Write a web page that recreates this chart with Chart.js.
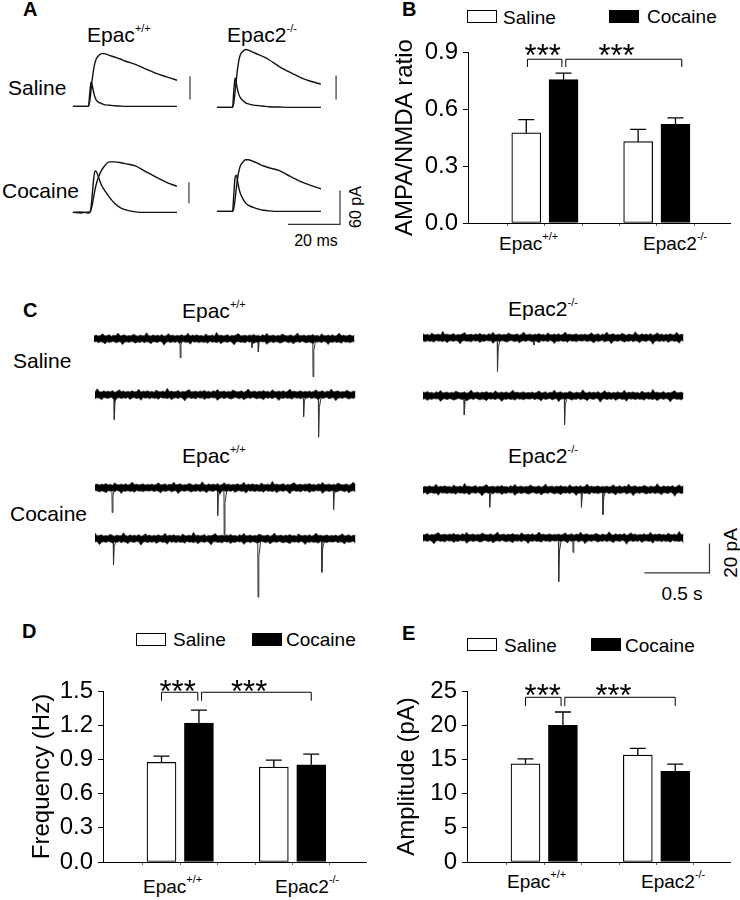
<!DOCTYPE html>
<html>
<head>
<meta charset="utf-8">
<script src="https://cdn.jsdelivr.net/npm/chart.js@4.4.1/dist/chart.umd.min.js"></script>
<style>
  body { margin: 0; background: #fff; }
  #fig { position: relative; width: 740px; height: 900px; font-family: "Liberation Sans", Arial, sans-serif; color: #000; overflow: hidden; }
  #fig canvas { position: absolute; }
  .t { position: absolute; line-height: 1; white-space: nowrap; transform: translateY(-50%); }
  .t .s { font-size: 11px; vertical-align: 10px; line-height: 0; }
  .L { font-size: 20px; font-weight: bold; }
  .h { font-size: 21px; }
  .x { font-size: 19px; }
  .lg { font-size: 19px; }
  .box { position: absolute; width: 28px; height: 11px; border: 1px solid #000; background: #fff; }
  .box.f { background: #000; }
  .rot { position: absolute; line-height: 1; white-space: nowrap; transform: translate(-50%, -50%) rotate(-90deg); }
</style>
</head>
<body>
<div id="fig">
  <!-- panel letters -->
  <div class="t L" style="left:23px;top:9px">A</div>
  <div class="t L" style="left:402px;top:8.5px">B</div>
  <div class="t L" style="left:23px;top:310px">C</div>
  <div class="t L" style="left:22px;top:631px">D</div>
  <div class="t L" style="left:402px;top:633px">E</div>

  <!-- A labels -->
  <div class="t h" style="left:87px;top:34px">Epac<span class="s">+/+</span></div>
  <div class="t h" style="left:227px;top:34px">Epac2<span class="s">-/-</span></div>
  <div class="t h" style="left:8px;top:87px">Saline</div>
  <div class="t h" style="left:2px;top:190px">Cocaine</div>
  <div class="t" style="left:316px;top:241px;font-size:16px;transform:translate(-50%,-50%)">20 ms</div>
  <div class="rot" style="left:356px;top:207px;font-size:16px">60 pA</div>

  <!-- B legend + labels -->
  <div class="box" style="left:467px;top:10px"></div>
  <div class="t lg" style="left:503px;top:17px">Saline</div>
  <div class="box f" style="left:609px;top:10px"></div>
  <div class="t lg" style="left:647px;top:16px">Cocaine</div>
  <div class="t x" style="left:499px;top:243px">Epac<span class="s">+/+</span></div>
  <div class="t x" style="left:643px;top:243px">Epac2<span class="s">-/-</span></div>

  <!-- C labels -->
  <div class="t h" style="left:182px;top:310px">Epac<span class="s">+/+</span></div>
  <div class="t h" style="left:508px;top:308px">Epac2<span class="s">-/-</span></div>
  <div class="t h" style="left:182px;top:455px">Epac<span class="s">+/+</span></div>
  <div class="t h" style="left:508px;top:455px">Epac2<span class="s">-/-</span></div>
  <div class="t h" style="left:13px;top:360px">Saline</div>
  <div class="t h" style="left:10px;top:513px">Cocaine</div>
  <div class="t" style="left:682px;top:593px;font-size:19px;transform:translate(-50%,-50%)">0.5 s</div>
  <div class="rot" style="left:730px;top:553px;font-size:19px">20 pA</div>

  <!-- D legend + labels -->
  <div class="box" style="left:136px;top:633px"></div>
  <div class="t lg" style="left:173px;top:639px">Saline</div>
  <div class="box f" style="left:252px;top:633px"></div>
  <div class="t lg" style="left:286px;top:639px">Cocaine</div>
  <div class="t x" style="left:143px;top:886px">Epac<span class="s">+/+</span></div>
  <div class="t x" style="left:275px;top:886px">Epac2<span class="s">-/-</span></div>

  <!-- E legend + labels -->
  <div class="box" style="left:467px;top:638px"></div>
  <div class="t lg" style="left:504px;top:645px">Saline</div>
  <div class="box f" style="left:591px;top:638px"></div>
  <div class="t lg" style="left:625px;top:645px">Cocaine</div>
  <div class="t x" style="left:507px;top:881px">Epac<span class="s">+/+</span></div>
  <div class="t x" style="left:641px;top:881px">Epac2<span class="s">-/-</span></div>
</div>

<script>
// ---- bar chart data (groups: Epac+/+, Epac2-/-) ----
const salinePos = [1, 4];
const cocainePos = [2, 5];

// B: AMPA/NMDA ratio
const bSaline = [0.474, 0.428];
const bSalineErr = [0.07, 0.065];
const bCocaine = [0.755, 0.519];
const bCocaineErr = [0.034, 0.034];
const bTicks = [0, 0.3, 0.6, 0.9];

// D: frequency (Hz)
const dSaline = [0.874, 0.832];
const dSalineErr = [0.055, 0.062];
const dCocaine = [1.219, 0.852];
const dCocaineErr = [0.114, 0.094];
const dTicks = [0, 0.3, 0.6, 0.9, 1.2, 1.5];

// E: amplitude (pA)
const eSaline = [14.35, 15.62];
const eSalineErr = [0.74, 0.98];
const eCocaine = [19.98, 13.24];
const eCocaineErr = [1.95, 1.07];
const eTicks = [0, 5, 10, 15, 20, 25];

// ---- A: evoked EPSCs (ms, pA) ----
const aTime = [0, 3, 6, 6.5, 7, 7.5, 8, 8.5, 9, 10, 11, 12, 14, 16, 18, 20, 24, 28, 32, 36, 40];
const salWtAmpa = [0, 0, 0, 25, 43, 35, 24, 16, 11, 7, 5, 3, 2, 1, 0.5, 0, 0, 0, 0, 0, 0];
const salWtNmda = [0, 0, 0, 10, 30, 50, 66, 77, 84, 90, 93, 93, 90, 87, 84, 80, 74, 66, 58, 52, 46];
const salKoAmpa = [0, 0, 0, 30, 52, 42, 30, 22, 17, 12, 8, 6, 4, 3, 2, 1, 0.5, 0, 0, 0, 0];
const salKoNmda = [0, 0, 0, 8, 28, 50, 70, 84, 93, 99, 102, 101, 97, 93, 89, 84, 72, 62, 53, 46, 41];
const cocWtAmpa = [0, 1, -1, 0, 10, 35, 60, 73, 72, 60, 48, 40, 27, 16, 9, 5, 1, 0, 0, 0, 0];
const cocWtNmda = [0, -1, 1, 0, 5, 15, 28, 40, 50, 64, 74, 81, 89, 89, 88, 86, 82, 72, 62, 53, 46];
const cocKoAmpa = [0, 0, 0, 30, 60, 64, 52, 40, 32, 22, 15, 11, 7, 4, 2, 1, 0, 0, 0, 0, 0];
const cocKoNmda = [0, 0, 0, 6, 22, 42, 60, 72, 80, 87, 91, 91, 88, 84, 80, 77, 72, 62, 53, 46, 40];

// ---- C: spontaneous EPSC events [time s, amplitude pA] ----
const salWt1 = [[0.66, 13], [1.21, 6], [1.26, 9], [1.68, 26]];
const salWt2 = [[0.146, 17], [1.60, 15], [1.715, 29]];
const salKo1 = [[0.57, 23], [0.85, 5]];
const salKo2 = [[0.315, 13], [1.085, 20]];
const cocWt1 = [[0.13, 17], [0.94, 19], [0.99, 34], [1.83, 15]];
const cocWt2 = [[0.14, 18], [1.25, 40], [1.74, 23]];
const cocKo1 = [[0.51, 12], [1.215, 12], [1.38, 17]];
const cocKo2 = [[1.04, 30], [1.15, 10]];
// baseline noise envelope (pA above / below the trace)
const noiseHi = [2.1, 2.6, 1.9, 2.4, 3.4, 2.0, 2.3, 2.8, 1.8, 2.5, 2.2, 3.9, 2.0, 2.4, 2.7, 1.9, 2.3, 2.1, 3.1, 2.4,
  1.8, 2.6, 2.2, 2.0, 4.2, 2.3, 1.9, 2.7, 2.1, 2.5, 2.0, 2.9, 1.8, 2.3, 3.5, 2.2, 2.6, 1.9, 2.4, 2.1,
  2.8, 2.0, 2.3, 3.8, 1.9, 2.5, 2.2, 2.7, 2.0, 2.4, 1.8, 3.2, 2.3, 2.1, 2.6, 1.9, 4.4, 2.2, 2.5, 2.0,
  2.3, 2.9, 1.8, 2.4, 2.1, 2.7, 3.6, 2.0, 2.2, 2.5, 1.9, 2.6, 2.3, 3.0, 2.1, 2.4, 1.8, 2.8, 2.2, 3.7,
  2.0, 2.3, 2.6, 1.9, 2.4, 2.1, 3.3, 2.5, 2.0, 2.2, 2.7, 1.8, 2.4, 4.0, 2.1, 2.3, 2.6, 1.9, 2.5, 2.2,
  2.9, 2.0, 2.4, 1.8, 3.4, 2.3, 2.1, 2.6, 2.0, 2.8, 1.9, 2.4, 3.9, 2.2, 2.5, 2.0, 2.3, 2.7, 1.9, 2.4];
const noiseLo = [-2.3, -1.9, -2.7, -2.1, -2.4, -3.6, -2.0, -2.5, -2.2, -1.8, -2.9, -2.3, -2.0, -4.1, -2.4, -2.1, -2.6, -1.9, -2.3, -3.0,
  -2.2, -2.5, -1.9, -2.8, -2.1, -2.4, -3.4, -2.0, -2.3, -2.6, -1.8, -2.2, -4.5, -2.4, -2.0, -2.7, -2.1, -2.5, -1.9, -3.2,
  -2.3, -2.0, -2.6, -2.2, -3.8, -1.9, -2.4, -2.1, -2.8, -2.0, -2.5, -2.3, -3.1, -1.8, -2.4, -2.2, -2.7, -2.0, -3.5, -2.3,
  -2.1, -2.6, -1.9, -2.4, -4.2, -2.2, -2.0, -2.5, -2.3, -2.9, -1.8, -2.4, -2.1, -3.3, -2.2, -2.6, -1.9, -2.3, -2.0, -3.9,
  -2.4, -2.1, -2.7, -2.0, -2.3, -3.0, -2.5, -1.9, -2.2, -2.8, -2.0, -3.6, -2.4, -2.1, -2.6, -1.8, -2.3, -2.9, -2.2, -2.5,
  -3.4, -2.0, -2.4, -2.1, -2.7, -1.9, -2.3, -4.0, -2.2, -2.5, -2.0, -2.6, -2.3, -3.1, -1.9, -2.4, -2.2, -2.8, -2.0, -2.3];

Chart.defaults.font.family = '"Liberation Sans", Arial, sans-serif';
Chart.defaults.color = '#000';

const fig = document.getElementById('fig');
function mkCanvas(left, top, w, h) {
  const c = document.createElement('canvas');
  c.width = w; c.height = h;
  c.style.left = left + 'px'; c.style.top = top + 'px';
  fig.appendChild(c);
  return c;
}

// error bars, brackets and stars for the bar charts
const sigPlugin = {
  id: 'sig',
  afterDatasetsDraw(chart, args, opts) {
    const { ctx } = chart;
    const x = chart.scales.x, y = chart.scales.y;
    ctx.save();
    ctx.strokeStyle = '#000';
    ctx.lineWidth = 1.3;
    chart.data.datasets.forEach((ds, di) => {
      chart.getDatasetMeta(di).data.forEach((bar, i) => {
        const yt = y.getPixelForValue(ds.data[i].y + ds.err[i]);
        ctx.beginPath();
        ctx.moveTo(bar.x, bar.y); ctx.lineTo(bar.x, yt);
        ctx.moveTo(bar.x - 8, yt); ctx.lineTo(bar.x + 8, yt);
        ctx.stroke();
      });
    });
    ctx.lineWidth = 1;
    (opts.brackets || []).forEach(b => {
      const x1 = x.getPixelForValue(b.x1), x2 = x.getPixelForValue(b.x2);
      const yl = y.getPixelForValue(b.y), yd = y.getPixelForValue(b.tail);
      ctx.beginPath();
      ctx.moveTo(x1, yd); ctx.lineTo(x1, yl); ctx.lineTo(x2, yl); ctx.lineTo(x2, yd);
      ctx.stroke();
    });
    ctx.fillStyle = '#000';
    ctx.font = '31px "Liberation Sans", Arial, sans-serif';
    ctx.textAlign = 'center';
    ctx.textBaseline = 'alphabetic';
    (opts.stars || []).forEach(s => {
      ctx.fillText('***', x.getPixelForValue(s.x), y.getPixelForValue(s.y) + 17);
    });
    ctx.restore();
  }
};

function barChart(left, top, w, titleText, titlePad, sal, salErr, coc, cocErr, ticks, fmt, sig) {
  const cv = mkCanvas(left, top, w, 213);
  new Chart(cv, {
    type: 'bar',
    data: {
      datasets: [
        { label: 'Saline', data: salinePos.map((p, i) => ({ x: p, y: sal[i] })), err: salErr,
          backgroundColor: '#fff', borderColor: '#000', borderWidth: 1.2, borderSkipped: false,
          barThickness: 29, grouped: false },
        { label: 'Cocaine', data: cocainePos.map((p, i) => ({ x: p, y: coc[i] })), err: cocErr,
          backgroundColor: '#000', borderColor: '#000', borderWidth: 1, borderSkipped: false,
          barThickness: 29, grouped: false }
      ]
    },
    options: {
      responsive: false, animation: false, devicePixelRatio: 1,
      layout: { padding: { top: 22, right: 10, left: 0, bottom: 0 } },
      plugins: { legend: { display: false }, tooltip: { enabled: false }, sig: sig },
      scales: {
        x: {
          type: 'linear', min: 0.14, max: 5.76,
          afterBuildTicks: a => { a.ticks = [1, 2, 3, 4, 5].map(v => ({ value: v })); },
          afterFit: s => { s.height = 20; },
          ticks: { display: false },
          grid: { drawOnChartArea: false, drawTicks: true, tickLength: 3, color: '#666' },
          border: { display: true, color: '#000', width: 1 }
        },
        y: {
          min: ticks[0], max: ticks[ticks.length - 1],
          afterBuildTicks: a => { a.ticks = ticks.map(v => ({ value: v })); },
          afterFit: s => { s.width = 88; },
          ticks: { font: { size: 24 }, padding: 5, callback: v => fmt(v) },
          grid: { drawOnChartArea: false, drawTicks: true, tickLength: 5, color: '#000' },
          border: { display: true, color: '#000', width: 1 },
          title: { display: true, text: titleText, font: { size: 24, lineHeight: 1.2 }, padding: { top: titlePad, bottom: 0 } }
        }
      }
    },
    plugins: [sigPlugin]
  });
}

barChart(380, 30, 360, 'AMPA/NMDA ratio', 10.6, bSaline, bSalineErr, bCocaine, bCocaineErr, bTicks,
  v => v.toFixed(1), {
    brackets: [{ x1: 1.03, x2: 1.955, y: 0.862, tail: 0.821 }, { x1: 2.06, x2: 5.17, y: 0.862, tail: 0.821 }],
    stars: [{ x: 1.44, y: 0.914 }, { x: 3.42, y: 0.914 }]
  });
barChart(15, 669, 361, 'Frequency (Hz)', 12.6, dSaline, dSalineErr, dCocaine, dCocaineErr, dTicks,
  v => v.toFixed(1), {
    brackets: [{ x1: 1.0, x2: 1.97, y: 1.489, tail: 1.415 }, { x1: 2.07, x2: 5.0, y: 1.489, tail: 1.415 }],
    stars: [{ x: 1.43, y: 1.553 }, { x: 3.34, y: 1.553 }]
  });
barChart(379, 669, 361, 'Amplitude (pA)', 13.6, eSaline, eSalineErr, eCocaine, eCocaineErr, eTicks,
  v => String(v), {
    brackets: [{ x1: 1.0, x2: 1.95, y: 24.08, tail: 22.8 }, { x1: 2.05, x2: 5.0, y: 24.08, tail: 22.8 }],
    stars: [{ x: 1.46, y: 25.3 }, { x: 3.35, y: 25.3 }]
  });

// ---- trace charts ----
function traceOptions(xr, yr) {
  return {
    responsive: false, animation: false, devicePixelRatio: 1,
    layout: { padding: 0 },
    plugins: { legend: { display: false }, tooltip: { enabled: false } },
    elements: { point: { radius: 0 } },
    scales: {
      x: { type: 'linear', display: false, min: xr[0], max: xr[1] },
      y: { type: 'linear', display: false, min: yr[0], max: yr[1] }
    }
  };
}

function epscChart(left, top, h, yr, ampa, nmda, bar) {
  const cv = mkCanvas(left, top, 134, h);
  const line = vals => ({
    data: aTime.map((t, i) => ({ x: t, y: vals[i] })),
    borderColor: '#111', borderWidth: 1.4, fill: false, cubicInterpolationMode: 'monotone'
  });
  new Chart(cv, {
    type: 'line',
    data: { datasets: [line(ampa), line(nmda),
      { data: bar, borderColor: '#333', borderWidth: 1.2, fill: false }] },
    options: traceOptions([-1.5, 50], yr)
  });
}

// Saline row (y range -10..110 pA), Cocaine row (-31..110 pA)
epscChart(69, 44, 68, [-10, 110], salWtAmpa, salWtNmda, [{ x: 45, y: 12 }, { x: 45, y: 53 }]);
epscChart(213, 45, 68, [-10, 110], salKoAmpa, salKoNmda, [{ x: 45.8, y: 14 }, { x: 45.8, y: 56 }]);
epscChart(69, 150, 80, [-31, 110], cocWtAmpa, cocWtNmda, [{ x: 44.6, y: 16 }, { x: 44.6, y: 53 }]);
epscChart(213, 149, 80, [-31, 110], cocKoAmpa, cocKoNmda,
  [{ x: 27.3, y: -23 }, { x: 47.3, y: -23 }, { x: 47.3, y: 37 }]);

function sepscChart(left, top, events, shift, bar) {
  const cv = mkCanvas(left, top, 293, 73);
  const n = noiseHi.length;
  const tAt = i => i * 2 / (n - 1);
  const hi = noiseHi.map((_, i) => ({ x: tAt(i), y: noiseHi[(i + shift) % n] }));
  const lo = noiseLo.map((_, i) => ({ x: tAt(i), y: noiseLo[(i + shift) % n] }));
  const sets = [
    { data: hi, borderColor: '#444', borderWidth: 0.7, fill: false },
    { data: lo, borderColor: '#444', borderWidth: 0.7, fill: '-1', backgroundColor: '#000' }
  ];
  events.forEach(([t, a]) => {
    sets.push({
      data: [{ x: t, y: 0 }, { x: t + 0.002, y: -a }, { x: t + 0.008, y: -a * 0.3 }, { x: t + 0.025, y: 0 }],
      borderColor: '#333', borderWidth: 1, fill: false
    });
  });
  if (bar) sets.push({ data: bar, borderColor: '#333', borderWidth: 1.2, fill: false });
  new Chart(cv, { type: 'line', data: { datasets: sets }, options: traceOptions([0, 2.25], [-44, 6]) });
}

sepscChart(94, 330, salWt1, 0);
sepscChart(95, 386, salWt2, 23);
sepscChart(423, 329, salKo1, 47);
sepscChart(423, 387, salKo2, 71);
sepscChart(95, 479, cocWt1, 95);
sepscChart(95, 530, cocWt2, 11);
sepscChart(423, 481, cocKo1, 37);
sepscChart(423, 529, cocKo2, 59, [{ x: 1.70, y: -24 }, { x: 2.2, y: -24 }, { x: 2.2, y: -4 }]);
</script>
</body>
</html>
